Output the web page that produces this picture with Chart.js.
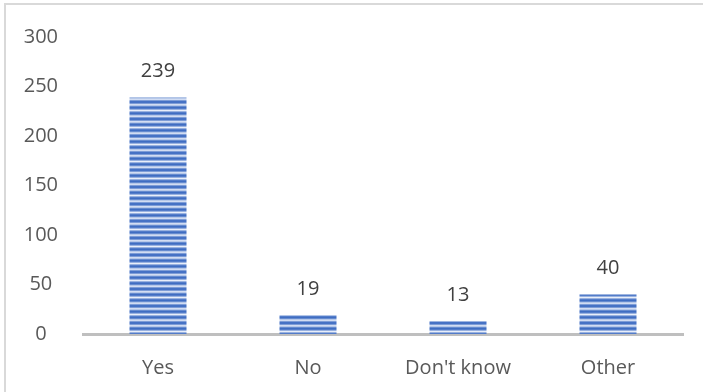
<!DOCTYPE html>
<html>
<head>
<meta charset="utf-8">
<script src="https://cdn.jsdelivr.net/npm/chart.js@4/dist/chart.umd.min.js"></script>
<style>
  html, body { margin: 0; padding: 0; background: #fff; }
  #box { position: absolute; left: 0; top: 0; width: 703px; height: 392px; }
  #frame { position: absolute; left: 4px; top: 3px; width: 720px; height: 420px;
           border-left: 2px solid #d9d9d9; border-top: 2px solid #d9d9d9; }
</style>
</head>
<body>
<div id="box">
  <div id="frame"></div>
  <canvas id="grafico" width="703" height="392"></canvas>
</div>
<script>
const categorie = ['Yes', 'No', "Don't know", 'Other'];
const risposte = [239, 19, 13, 40];
const tickMin = 0;
const tickMax = 300;
const tickStep = 50;

// bande orizzontali come il riempimento "a righe" di Excel
function creaRighe(ctx) {
    const c = document.createElement('canvas');
    c.width = 4;
    c.height = 17;
    const g = c.getContext('2d');
    const scuro = [62, 108, 194];
    const chiaro = [232, 238, 250];
    for (let y = 0; y < 17; y++) {
        const fase = ((y + 0.5) % (17 / 3)) / (17 / 3);
        const t = Math.pow(0.5 + 0.5 * Math.cos(2 * Math.PI * fase), 0.6);
        const col = scuro.map((s, i) => Math.round(chiaro[i] + (s - chiaro[i]) * t));
        g.fillStyle = 'rgb(' + col.join(',') + ')';
        g.fillRect(0, y, 4, 1);
    }
    return ctx.createPattern(c, 'repeat');
}

const etichetteValori = {
    id: 'etichetteValori',
    afterDatasetsDraw(chart) {
        const ctx = chart.ctx;
        const meta = chart.getDatasetMeta(0);
        ctx.save();
        ctx.font = '20px "Open Sans"';
        ctx.fillStyle = '#404040';
        ctx.textAlign = 'center';
        ctx.textBaseline = 'middle';
        meta.data.forEach((bar, i) => {
            ctx.fillText(String(risposte[i]), bar.x, bar.y - 26);
        });
        ctx.restore();
    }
};

const ctx = document.getElementById('grafico').getContext('2d');
new Chart(ctx, {
    type: 'bar',
    data: {
        labels: categorie,
        datasets: [{
            data: risposte,
            backgroundColor: creaRighe(ctx),
            borderWidth: 0,
            categoryPercentage: 1,
            barPercentage: 0.38
        }]
    },
    options: {
        responsive: false,
        animation: false,
        layout: { padding: { top: 32, right: 20, left: 0, bottom: 0 } },
        plugins: {
            legend: { display: false },
            tooltip: { enabled: false }
        },
        scales: {
            x: {
                grid: { display: false, drawTicks: false },
                border: { display: true, color: '#bfbfbf', width: 3 },
                ticks: {
                    color: '#595959',
                    font: { size: 20, family: '"Open Sans"' },
                    padding: 22
                },
                afterFit(scale) { scale.height = 58; }
            },
            y: {
                min: tickMin,
                max: tickMax,
                grid: { display: false, drawTicks: false },
                border: { display: false },
                ticks: {
                    stepSize: tickStep,
                    color: '#595959',
                    font: { size: 20, family: '"Open Sans"' },
                    crossAlign: 'center',
                    padding: 25
                },
                afterFit(scale) { scale.width = 83; }
            }
        }
    },
    plugins: [etichetteValori]
});
</script>
</body>
</html>
